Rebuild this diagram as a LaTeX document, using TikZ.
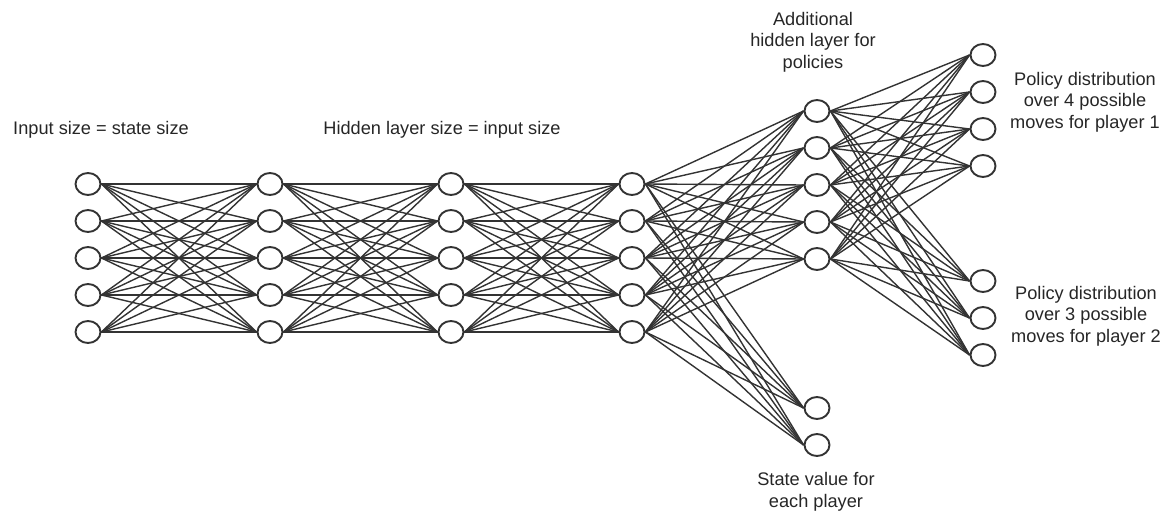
\documentclass[tikz,border=0pt]{standalone}
\usepackage{fontspec}
\setmainfont{Liberation Sans}
\usetikzlibrary{shapes.geometric}
\definecolor{netgray}{HTML}{333333}
\tikzset{
    neuron/.style={ellipse, draw=netgray, line width=1.9pt, fill=white,
        minimum width=25pt, minimum height=22pt, inner sep=0pt},
    wire/.style={draw=netgray, line width=1.4pt},
    note/.style={align=center, text=black!85, font=\fontsize{18.2}{21.7}\selectfont, inner sep=0pt}
}

\begin{document}
\begin{tikzpicture}[x=1pt, y=-1pt]
    \useasboundingbox (0,0) rectangle (1162,513);
    % shared layers
    \foreach \l/\x in {1/88,2/270,3/451,4/632}
        \foreach \i in {1,...,5}
            \node[neuron] (L\l-\i) at (\x,147+37*\i) {};
    % policy head and value head
    \foreach \i in {1,...,5}
        \node[neuron] (pol-\i) at (817,74+37*\i) {};
    \node[neuron] (val-1) at (817,408) {};
    \node[neuron] (val-2) at (817,445) {};
    \foreach \i in {1,...,4}
        \node[neuron] (outa-\i) at (983,18+37*\i) {};
    \foreach \i in {1,...,3}
        \node[neuron] (outb-\i) at (983,244+37*\i) {};
    % texts
    \node[note] (insize) at (101,130) {Input size = state size};
    \node[note] (hidsize) at (442,130) {Hidden layer size = input size};
    \node[note] (polhid) at (813,42) {Additional\\hidden layer for\\policies};
    \node[note] (polone) at (1085,102) {Policy distribution\\over 4 possible\\moves for player 1};
    \node[note] (poltwo) at (1086,316) {Policy distribution\\over 3 possible\\moves for player 2};
    \node[note] (stval) at (816,492) {State value for\\each player};
    % fully connected wiring
    \foreach \a/\b in {1/2,2/3,3/4}
        \foreach \i in {1,...,5}
            \foreach \j in {1,...,5}
                \draw[wire] (L\a-\i.east) -- (L\b-\j.west);
    \foreach \i in {1,...,5} {
        \foreach \j in {1,...,5}
            \draw[wire] (L4-\i.east) -- (pol-\j.west);
        \foreach \j in {1,2}
            \draw[wire] (L4-\i.east) -- (val-\j.west);
        \foreach \j in {1,...,4}
            \draw[wire] (pol-\i.east) -- (outa-\j.west);
        \foreach \j in {1,...,3}
            \draw[wire] (pol-\i.east) -- (outb-\j.west);
    }
\end{tikzpicture}
\end{document}
